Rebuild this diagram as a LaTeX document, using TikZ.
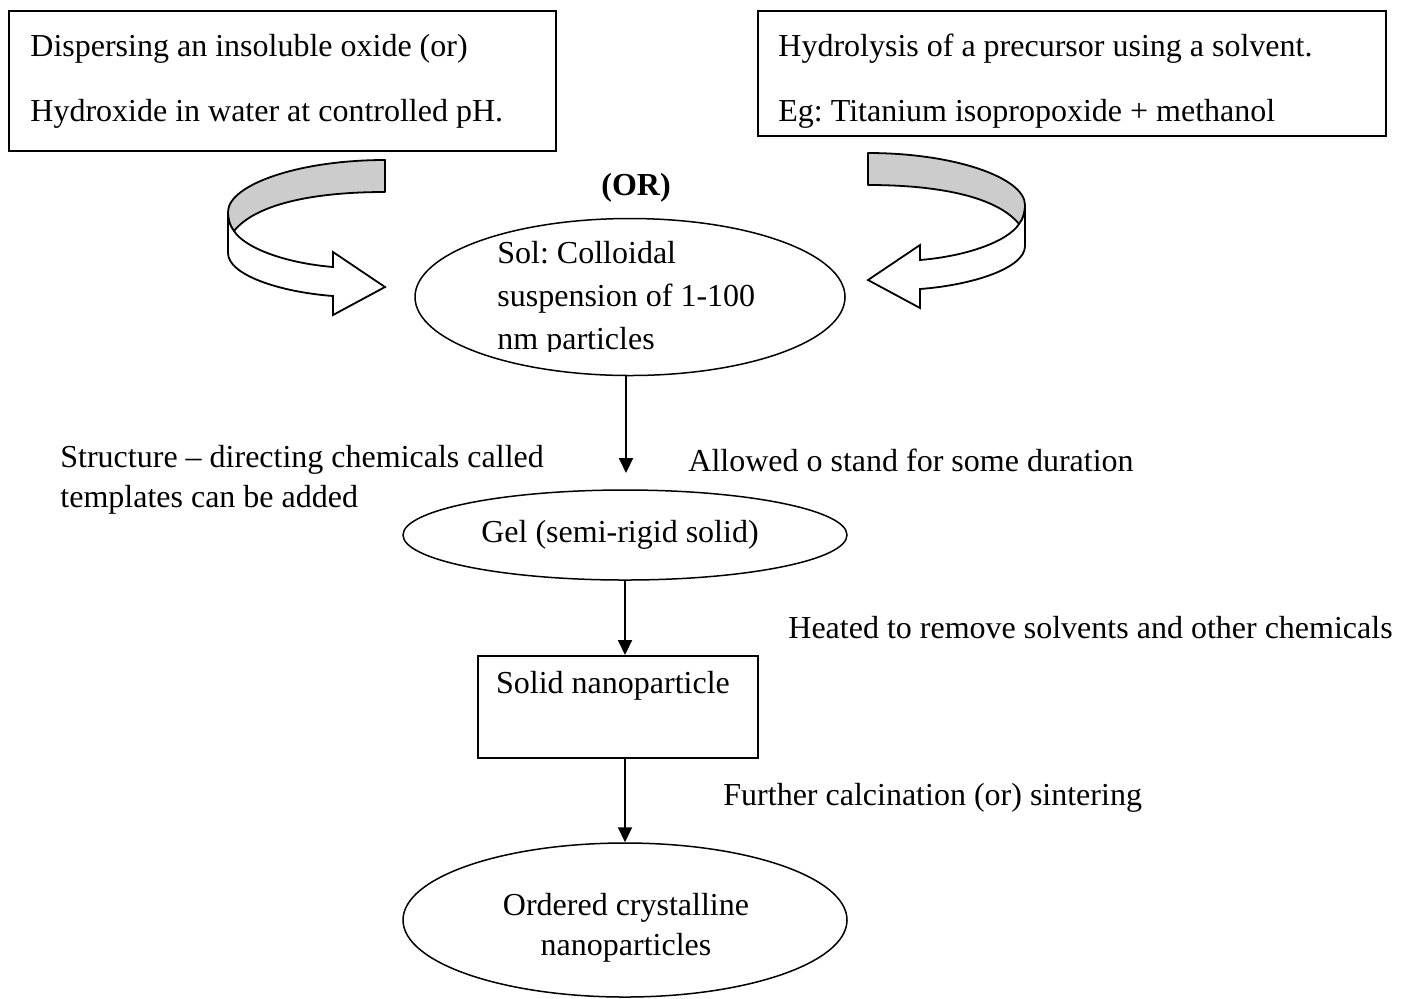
\documentclass[tikz,border=0pt]{standalone}
\usepackage{fontspec}
\setmainfont{Liberation Serif}
\usetikzlibrary{shapes.geometric,arrows.meta}
\frenchspacing
\newcommand\ribbonarrow{%
  \fill[ribbongray, draw=black, line width=0.9pt, line join=round]
    (385,160) .. controls (298,160) and (228,185) .. (228,212)
    .. controls (228,220) and (230,226) .. (234,231)
    .. controls (255,205) and (310,192) .. (385,192) -- cycle;
  \filldraw[fill=white, draw=black, line width=0.9pt, line join=miter]
    (228,212) -- (228,253) .. controls (228,275) and (280,292) .. (333,296)
    -- (333,315) -- (385,287) -- (333,252) -- (333,267)
    .. controls (285,263) and (245,248) .. (234,231)
    .. controls (230,226) and (228,220) .. (228,212) -- cycle;
}
\begin{document}
\begin{tikzpicture}[x=0.5pt,y=-0.5pt,
  every node/.style={font=\fontsize{16}{20}\selectfont\frenchspacing},
  frame/.style={draw, line width=0.75pt, rectangle, anchor=north west, inner sep=0pt},
  boxtext/.style={anchor=west, align=flush left, inner sep=0pt,
    font=\fontsize{16}{32.5}\selectfont\frenchspacing},
  oval/.style={draw, line width=0.75pt, ellipse, inner sep=0pt},
  lbl/.style={anchor=west, align=flush left, inner sep=0pt},
  arr/.style={line width=1pt, -{Triangle[length=7.5pt,width=7pt]}},
]
\definecolor{ribbongray}{RGB}{204,204,204}
\useasboundingbox (0,0) rectangle (1411,998);

% top boxes
\node[frame, minimum width=273.5pt, minimum height=70pt] (box1) at (8,10) {};
\node[boxtext] (box1text) at (30,81)
  {Dispersing an insoluble oxide (or)\\Hydroxide in water at controlled pH.};
\node[frame, minimum width=314pt, minimum height=62.5pt] (box2) at (757,10) {};
\node[boxtext] (box2text) at (778,81)
  {Hydrolysis of a precursor using a solvent.\\Eg: Titanium isopropoxide + methanol};

% curved ribbon arrows
\ribbonarrow
\begin{scope}[shift={(1253,-7)}, xscale=-1]
\ribbonarrow
\end{scope}

\node[inner sep=0pt, font=\fontsize{16}{20}\selectfont\bfseries] (or) at (636,188) {(OR)};

% Sol ellipse
\node[oval, minimum width=215pt, minimum height=78.5pt] (sol) at (630,297) {};
\begin{scope}
\clip (400,215) rectangle (860,351);
\node[lbl, font=\fontsize{16}{21.5}\selectfont\frenchspacing] (soltext) at (497,299)
  {Sol: Colloidal\\suspension of 1-100\\nm particles};
\end{scope}

% Gel ellipse
\node[oval, minimum width=222pt, minimum height=45pt] (gel) at (625,535) {};
\node[inner sep=0pt] (geltext) at (620,535) {Gel (semi-rigid solid)};

% Solid box
\node[frame, minimum width=140pt, minimum height=51pt] (solid) at (477,655) {};
\node[inner sep=0pt] (solidtext) at (613,686) {Solid nanoparticle};

% Ordered ellipse
\node[oval, minimum width=222pt, minimum height=77pt] (ord) at (625,920) {};
\node[inner sep=0pt, align=center] (ordtext) at (626,928)
  {Ordered crystalline\\nanoparticles};

% arrows
\coordinate (a1) at (626,473);
\draw[arr] (sol.south -| a1) -- (a1);
\coordinate (a2) at (625,580);
\draw[arr] (a2) -- (a2 |- solid.north);
\coordinate (a3) at (625,757);
\draw[arr] (a3) -- (ord.north);

% labels
\node[lbl] (lstruct) at (60,480) {Structure -- directing chemicals called\\templates can be added};
\node[lbl] (lallow) at (688,460) {Allowed o stand for some duration};
\node[lbl] (lheat) at (788,628) {Heated to remove solvents and other chemicals};
\node[lbl] (lfurther) at (723,798) {Further calcination (or) sintering};
\end{tikzpicture}
\end{document}
